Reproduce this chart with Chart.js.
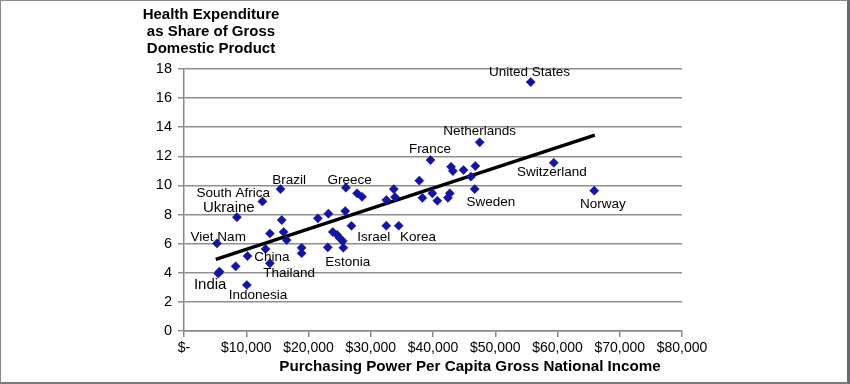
<!DOCTYPE html>
<html>
<head>
<meta charset="utf-8">
<script src="https://cdn.jsdelivr.net/npm/chart.js@4/dist/chart.umd.min.js"></script>
<style>
  html, body { margin: 0; padding: 0; background: #fff; }
  #wrap { position: relative; width: 850px; height: 384px; }
  #frame {
    position: absolute; left: 0; top: 0; width: 850px; height: 384px;
    box-sizing: border-box; pointer-events: none;
    border-top: 1px solid #8a8a8a; border-left: 1px solid #8a8a8a;
    border-right: 3px solid #6a6a6a; border-bottom: 2px solid #7a7a7a;
  }
</style>
</head>
<body>
<div id="wrap">
  <canvas id="chart" width="850" height="384"></canvas>
  <div id="frame"></div>
</div>
<script>
// purchasing power per capita GNI (US$) and health expenditure (% of GDP)
let incomeValues = [
    5300, 5500, 5700, 8300, 8500, 10200, 10100, 12600, 13100, 13800,
    13800, 15500, 15700, 16000, 16500, 18900, 18900, 21500, 23100, 23200,
    23900, 24600, 25000, 25500, 25600, 25900, 26000, 26900, 27800, 28600,
    32500, 34500, 32500, 33700, 33900, 37800, 38300, 39600, 39900, 40700,
    42400, 42700, 42900, 43200, 44900, 46100, 46800, 46700, 47500, 55700,
    59400, 65900
];
let healthValues = [
    6.02, 3.95, 4.08, 4.44, 7.82, 5.15, 3.16, 8.9, 5.64, 4.65,
    6.7, 9.75, 7.62, 6.8, 6.25, 5.72, 5.34, 7.74, 5.75, 8.06,
    6.8, 6.6, 6.39, 6.18, 5.72, 8.24, 9.85, 7.23, 9.46, 9.22,
    7.23, 7.23, 9.0, 9.75, 9.2, 10.33, 9.15, 11.74, 9.46, 8.95,
    9.15, 9.46, 11.28, 10.99, 11.06, 10.6, 11.33, 9.75, 12.96, 17.1,
    11.56, 9.64
];

// trend line end points
let trendIncome = [5100, 66000];
let trendHealth = [4.92, 13.46];

// country labels, anchored in data units
let labelNames = [
    "United States", "Netherlands", "France", "Switzerland", "Sweden", "Norway",
    "Greece", "Brazil", "South Africa", "Ukraine", "Viet Nam", "China",
    "Thailand", "India", "Indonesia", "Estonia", "Israel", "Korea"
];
let labelIncome = [
    55500, 47500, 39500, 59100, 49300, 67300,
    26600, 16900, 7900, 7200, 5500, 14100,
    16900, 4200, 11900, 26300, 30500, 37600
];
let labelHealth = [
    17.79, 13.74, 12.5, 10.92, 8.86, 8.72,
    10.37, 10.37, 9.48, 8.45, 6.46, 5.08,
    3.98, 3.16, 2.47, 4.74, 6.46, 6.46
];
let bigLabels = ["Ukraine", "India"];

let yTitle = ["Health Expenditure", "as Share of Gross", "Domestic Product"];
let xTitle = "Purchasing Power Per Capita Gross National Income";

const FONT = "'Liberation Sans', Arial, sans-serif";

const textPlugin = {
    id: "texts",
    afterDatasetsDraw(chart) {
        let ctx = chart.ctx;
        let xs = chart.scales.x;
        let ys = chart.scales.y;
        ctx.save();
        ctx.fillStyle = "#000";
        ctx.textAlign = "center";
        ctx.textBaseline = "middle";
        labelNames.forEach((name, i) => {
            let size = bigLabels.includes(name) ? 15 : 13.5;
            ctx.font = `${size}px ${FONT}`;
            ctx.fillText(name, xs.getPixelForValue(labelIncome[i]), ys.getPixelForValue(labelHealth[i]));
        });
        ctx.font = `bold 15px ${FONT}`;
        yTitle.forEach((line, i) => ctx.fillText(line, 211, 15 + i * 16.7));
        ctx.font = `bold 15.2px ${FONT}`;
        ctx.fillText(xTitle, 470, 367);
        ctx.restore();
    }
};

new Chart(document.getElementById("chart"), {
    type: "scatter",
    data: {
        datasets: [
            {
                data: incomeValues.map((x, i) => ({ x: x, y: healthValues[i] })),
                pointStyle: "rectRot",
                pointRadius: 4.6,
                backgroundColor: "#1414a0",
                borderColor: "#1414a0",
                borderWidth: 0.5
            },
            {
                type: "line",
                data: trendIncome.map((x, i) => ({ x: x, y: trendHealth[i] })),
                borderColor: "#000",
                borderWidth: 3.5,
                pointRadius: 0,
                fill: false
            }
        ]
    },
    options: {
        responsive: false,
        animation: false,
        layout: { padding: { top: 69, right: 168, left: 0, bottom: 0 } },
        plugins: {
            legend: { display: false },
            tooltip: { enabled: false }
        },
        scales: {
            x: {
                type: "linear",
                min: 0,
                max: 80000,
                afterFit: scale => { scale.height = 53; },
                ticks: {
                    stepSize: 10000,
                    color: "#000",
                    padding: 3,
                    font: { family: FONT, size: 14 },
                    callback: v => v === 0 ? "$-" : "$" + v.toLocaleString("en-US")
                },
                grid: {
                    drawOnChartArea: false,
                    drawTicks: true,
                    tickLength: 6,
                    color: "#8a8a8a",
                    lineWidth: 1.5
                },
                border: { color: "#8a8a8a", width: 1.5 }
            },
            y: {
                min: 0,
                max: 18,
                afterFit: scale => { scale.width = 184; },
                ticks: {
                    stepSize: 2,
                    color: "#000",
                    padding: 6,
                    font: { family: FONT, size: 14.5 }
                },
                grid: {
                    color: "#8f8f8f",
                    lineWidth: 1.5,
                    tickLength: 6
                },
                border: { color: "#8a8a8a", width: 1.5 }
            }
        }
    },
    plugins: [textPlugin]
});
</script>
</body>
</html>
